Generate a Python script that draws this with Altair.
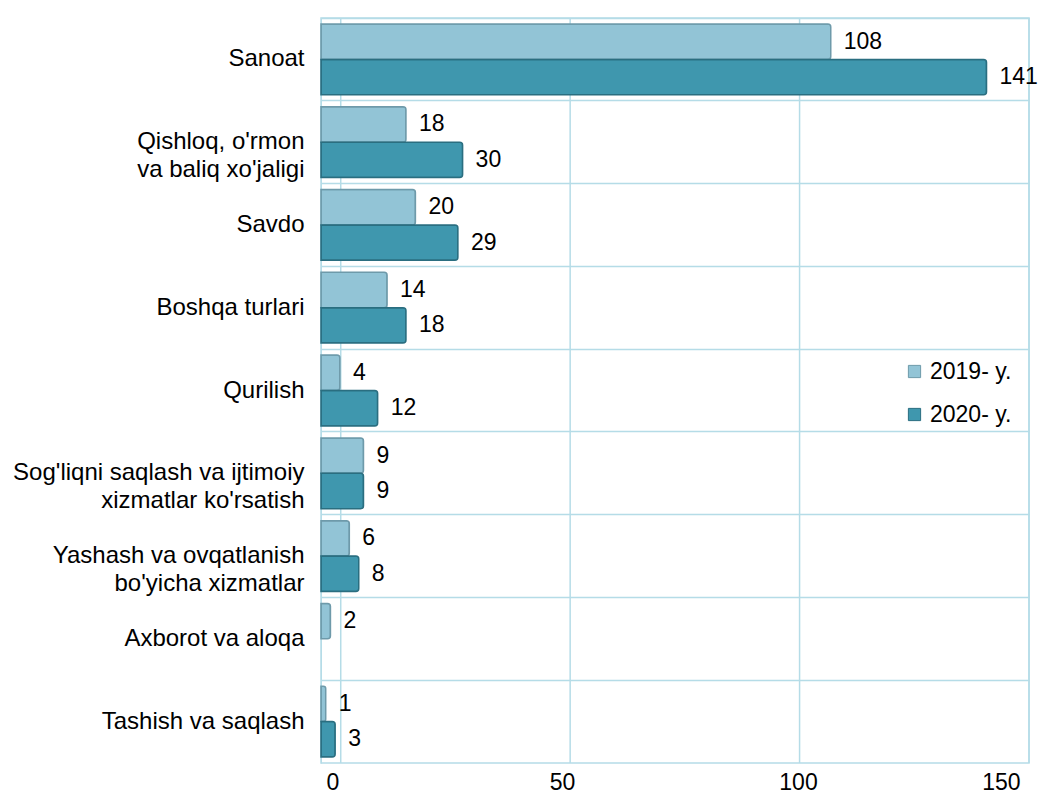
import altair as alt
import pandas as pd

categories = [
    "Sanoat",
    "Qishloq, o'rmon|va baliq xo'jaligi",
    "Savdo",
    "Boshqa turlari",
    "Qurilish",
    "Sog'liqni saqlash va ijtimoiy|xizmatlar ko'rsatish",
    "Yashash va ovqatlanish|bo'yicha xizmatlar",
    "Axborot va aloqa",
    "Tashish va saqlash",
]
v2019 = [108, 18, 20, 14, 4, 9, 6, 2, 1]
v2020 = [141, 30, 29, 18, 12, 9, 8, None, 3]
series = ["2019- y.", "2020- y."]
colors = ["#92C4D6", "#3F97AE"]
strokes = ["#6E9AAA", "#2A6E80"]
x_ticks = [0, 50, 100, 150]

rows = []
for c, a, b in zip(categories, v2019, v2020):
    rows.append({"cat": c, "series": series[0], "value": a})
    if b is not None:
        rows.append({"cat": c, "series": series[1], "value": b})
df = pd.DataFrame(rows)
ticks_df = pd.DataFrame({"tick": x_ticks})

W, H = 708, 745
grid = "#B5DCE7"
FONT = "Liberation Sans"

y = alt.Y("cat:N", sort=categories,
          scale=alt.Scale(paddingInner=0, paddingOuter=0),
          axis=alt.Axis(title=None, ticks=False, domain=True, domainColor=grid,
                        grid=True, gridColor=grid, gridWidth=1.5, bandPosition=0,
                        labelFont=FONT, labelFontSize=24, labelColor="#000",
                        labelPadding=17, labelLimit=400, labelLineHeight=28,
                        labelExpr="split(datum.label, '|')"))
x = alt.X("value:Q", scale=alt.Scale(domain=[0, 150], nice=False),
          axis=alt.Axis(title=None, values=x_ticks, ticks=False, domain=False,
                        grid=False, labelFont=FONT,
                        labelFontSize=23, labelColor="#000", labelPadding=8,
                        labelOffset={"expr": "datum.value == 150 ? -9 : 5"}))
yoff = alt.YOffset("series:N", sort=series,
                   scale=alt.Scale(domain=series, paddingOuter=0.17, paddingInner=0.0))

# back-wall gridlines (perspective-shifted scale)
gridlines = alt.Chart(ticks_df).mark_rule(color=grid, strokeWidth=1.5).encode(
    x=alt.X("tick:Q", scale=alt.Scale(domain=[-4.3, 150], nice=False), axis=None),
    y=alt.value(0), y2=alt.value(H),
)

bars = alt.Chart(df).mark_bar(strokeWidth=1.5, cornerRadiusEnd=3).encode(
    y=y, x=x, yOffset=yoff,
    color=alt.Color("series:N", sort=series,
                    scale=alt.Scale(domain=series, range=colors),
                    legend=alt.Legend(title=None, orient="none", legendX=582, legendY=342,
                                      symbolType="square", symbolSize=150,
                                      symbolStrokeColor="#5A8A9A", symbolStrokeWidth=1,
                                      labelFont=FONT, labelFontSize=23,
                                      labelColor="#000", rowPadding=19, labelOffset=4)),
    stroke=alt.Stroke("series:N", sort=series,
                      scale=alt.Scale(domain=series, range=strokes), legend=None),
)

labels = alt.Chart(df).mark_text(align="left", baseline="middle", dx=13,
                                 font=FONT, fontSize=23, color="#000").encode(
    y=y, x=x, yOffset=yoff, text=alt.Text("value:Q"))

chart = alt.layer(gridlines, bars + labels).resolve_scale(x="independent").properties(
    width=W, height=H,
    padding={"left": 4, "top": 9, "right": 0, "bottom": 0},
).configure_view(stroke=grid, strokeWidth=1.5)

chart.save("out.html", embed_options={"renderer": "svg", "actions": False})
